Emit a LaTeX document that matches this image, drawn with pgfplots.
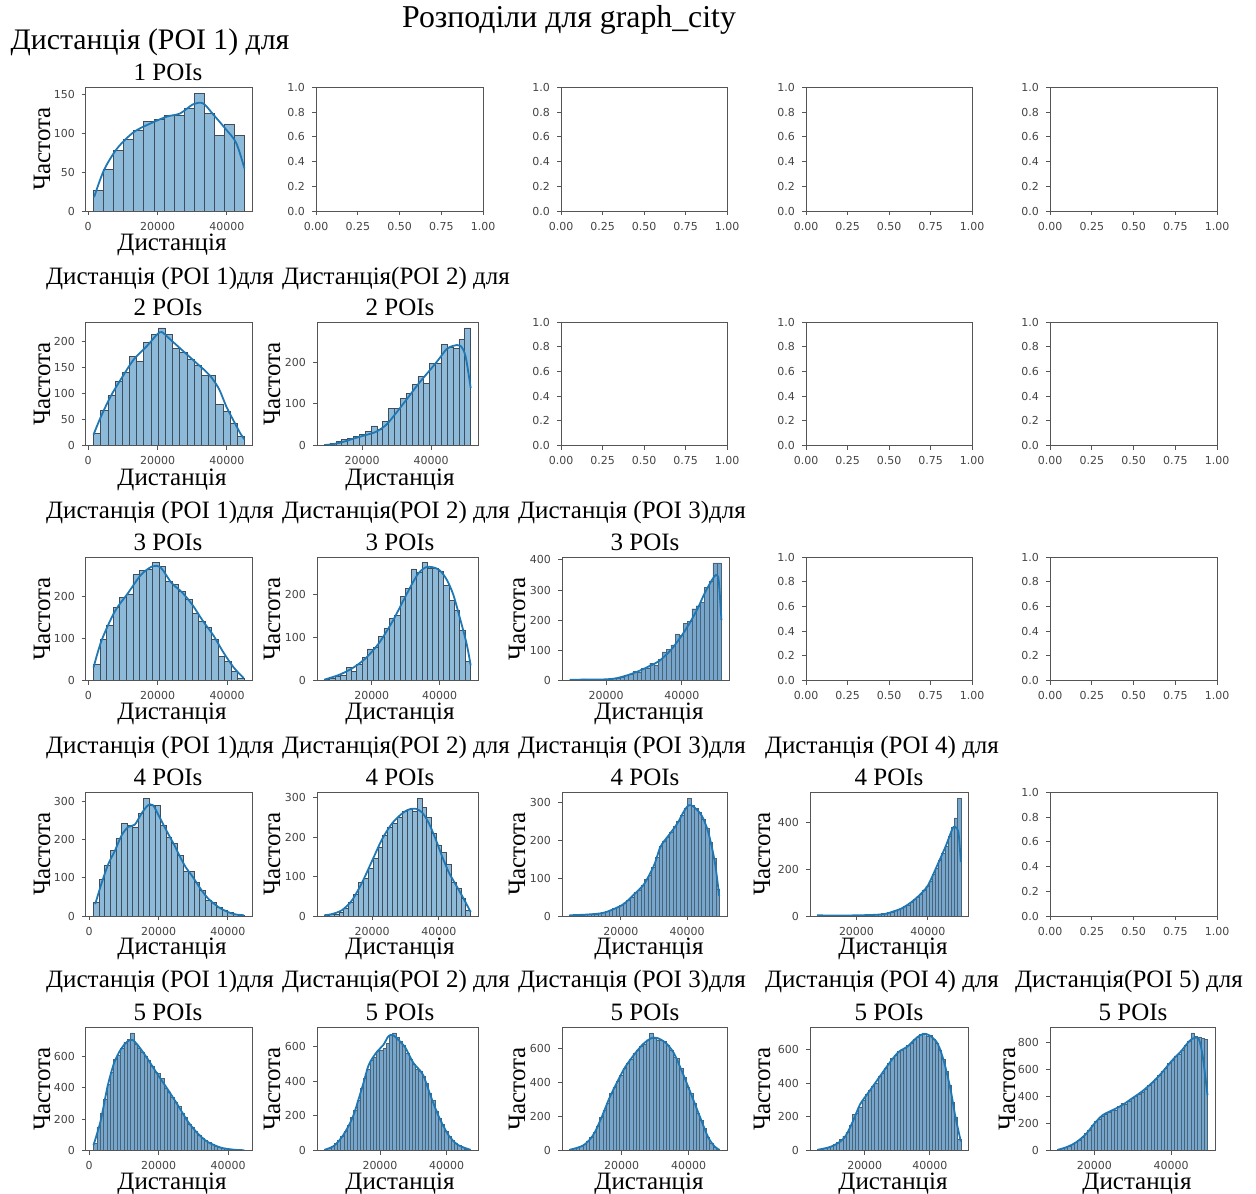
\documentclass[border=0pt]{standalone}
\usepackage{pgfplots}
\pgfplotsset{compat=1.18}
\usepackage{fontspec}
\setmainfont{Liberation Serif}
\newfontfamily\dejavu{DejaVu Sans}

\definecolor{barfill}{HTML}{8DBAD9}
\definecolor{baredge}{HTML}{3F4E5A}
\definecolor{densefill}{HTML}{78A5CC}
\definecolor{denseedge}{HTML}{466579}
\definecolor{kdeblue}{HTML}{1F77B4}
\definecolor{spine}{HTML}{555555}
\definecolor{ticktext}{HTML}{444444}

\newcommand\labf{\fontsize{12.5}{15}\selectfont}

\pgfplotsset{
  panel/.style={scale only axis, anchor=north west, height=61.75pt,
    axis line style={spine, line width=0.5pt},
    every tick/.style={spine, line width=0.5pt},
    major tick length=2pt, tick align=outside, tick pos=lower,
    ticklabel style={font=\dejavu\fontsize{5.5}{6.5}\selectfont, text=ticktext},
    /pgf/number format/assume math mode=true},
  hist/.style={panel, ymin=0, scaled ticks=false, xtick={0,20000,40000},
    /pgf/number format/1000 sep={}, axis on top},
  blank/.style={panel, xmin=0, xmax=1, ymin=0, ymax=1,
    xtick={0,0.25,0.5,0.75,1}, ytick={0,0.2,0.4,0.6,0.8,1},
    x tick label style={/pgf/number format/.cd, fixed, fixed zerofill, precision=2, /tikz/.cd},
    y tick label style={/pgf/number format/.cd, fixed, fixed zerofill, precision=1, /tikz/.cd}},
  histbar/.style={ybar interval, fill=barfill, draw=baredge, line width=0.4pt},
  thinbar/.style={ybar interval, fill=densefill, draw=denseedge, line width=0.2pt},
  kde/.style={kdeblue, line width=0.9pt, smooth},
}

\begin{document}
\begin{tikzpicture}
\useasboundingbox (0pt,0pt) rectangle (628pt,-596.5pt);

% ---------------- row 1 : 1 POI ----------------
\begin{axis}[hist, at={(43pt,-43.75pt)}, width=83pt,
  xmin=-625, xmax=47225, ymax=159.6, ytick={0,50,100,150}]
\addplot[histbar] table[x expr={1550+\coordindex*2900}, y index=0, header=false, row sep=\\]
{27\\54\\78\\93\\104\\116\\118\\124\\124\\133\\152\\126\\98\\112\\98\\0\\};
\addplot[kde] coordinates {(1714,18)(4571,53)(8380,81)(13143,102)(17905,113)(22667,122)(26476,126)(30286,138)(33143,139)(36000,125)(39810,105)(42667,88)(45050,55)};
\end{axis}
\begin{axis}[blank, at={(158pt,-43.75pt)}, width=83.5pt]\end{axis}
\begin{axis}[blank, at={(280.5pt,-43.75pt)}, width=83pt]\end{axis}
\begin{axis}[blank, at={(403pt,-43.75pt)}, width=83pt]\end{axis}
\begin{axis}[blank, at={(525pt,-43.75pt)}, width=83.5pt]\end{axis}

% ---------------- row 2 : 2 POIs ----------------
\begin{axis}[hist, at={(43pt,-161pt)}, width=83pt,
  xmin=-625, xmax=47225, ymax=238.4, ytick={0,50,100,150,200}]
\addplot[histbar] table[x expr={1550+\coordindex*2071.43}, y index=0, header=false, row sep=\\]
{24\\68\\96\\124\\141\\172\\163\\199\\214\\227\\214\\188\\180\\167\\154\\135\\135\\79\\66\\43\\17\\0\\};
\addplot[kde] coordinates {(1550,21)(3700,56)(6490,95)(9350,127)(13140,166)(16950,192)(19800,214)(21230,219)(23620,205)(27430,182)(31580,157)(33620,145)(35690,130)(37800,108)(39840,75)(41900,48)(43980,22)(45050,12)};
\end{axis}
\begin{axis}[hist, at={(158.5pt,-161pt)}, width=80.5pt,
  xmin=6875, xmax=53625, ymax=297.2, ytick={0,100,200}]
\addplot[histbar] table[x expr={9000+\coordindex*1700}, y index=0, header=false, row sep=\\]
{3\\6\\10\\14\\18\\22\\26\\34\\47\\38\\58\\90\\90\\114\\126\\146\\166\\150\\198\\198\\244\\237\\233\\255\\283\\0\\};
\addplot[kde] coordinates {(9000,1)(12000,4)(15000,10)(18000,18)(21000,25)(24000,33)(27000,50)(30000,80)(33000,112)(36000,145)(39000,175)(42000,205)(44500,232)(46500,240)(48500,240)(50000,215)(51500,138)};
\end{axis}
\begin{axis}[blank, at={(280.5pt,-161pt)}, width=83pt]\end{axis}
\begin{axis}[blank, at={(403pt,-161pt)}, width=83pt]\end{axis}
\begin{axis}[blank, at={(525pt,-161pt)}, width=83.5pt]\end{axis}

% ---------------- row 3 : 3 POIs ----------------
\begin{axis}[hist, at={(43pt,-278.5pt)}, width=83pt,
  xmin=-675, xmax=47175, ymax=294, ytick={0,100,200}]
\addplot[histbar] table[x expr={1500+\coordindex*1891.3}, y index=0, header=false, row sep=\\]
{39\\97\\131\\174\\198\\206\\252\\262\\264\\280\\272\\236\\228\\212\\194\\160\\140\\126\\99\\57\\45\\21\\6\\0\\};
\addplot[kde] coordinates {(1500,31)(3800,95)(7610,164)(11420,208)(15230,252)(18560,272)(20950,268)(24000,232)(27000,210)(30000,180)(33000,142)(36000,108)(39000,66)(42000,30)(44760,6)};
\end{axis}
\begin{axis}[hist, at={(158.5pt,-278.5pt)}, width=80.5pt,
  xmin=3840, xmax=51360, ymax=285.6, ytick={0,100,200}]
\addplot[histbar] table[x expr={6000+\coordindex*1600}, y index=0, header=false, row sep=\\]
{2\\5\\9\\12\\31\\22\\38\\53\\73\\77\\102\\120\\143\\151\\194\\213\\258\\250\\272\\260\\260\\252\\219\\186\\162\\117\\45\\0\\};
\addplot[kde] coordinates {(6000,2)(10000,12)(14000,27)(18000,50)(22000,85)(26000,135)(29000,180)(32000,225)(34000,250)(36000,262)(38000,262)(40000,255)(42000,235)(44000,200)(46000,145)(48000,85)(49200,35)};
\end{axis}
\begin{axis}[hist, at={(281pt,-278.5pt)}, width=83.5pt,
  xmin=8400, xmax=52400, ymax=409.5, ytick={0,100,200,300,400}]
\addplot[thinbar] table[x expr={10400+\coordindex*1111}, y index=0, header=false, row sep=\\]
{2\\2\\3\\5\\3\\2\\3\\2\\3\\4\\6\\8\\12\\16\\22\\30\\27\\40\\42\\58\\52\\70\\95\\104\\118\\155\\150\\190\\195\\238\\248\\258\\310\\330\\390\\390\\0\\};
\addplot[kde] coordinates {(10400,2)(14000,3)(18000,3)(22000,6)(25000,15)(28000,28)(31000,45)(34000,65)(37000,100)(40000,150)(42000,190)(44000,235)(46000,290)(48000,335)(49000,350)(49700,330)(50400,200)};
\end{axis}
\begin{axis}[blank, at={(403pt,-278.5pt)}, width=83pt]\end{axis}
\begin{axis}[blank, at={(525pt,-278.5pt)}, width=83.5pt]\end{axis}

% ---------------- row 4 : 4 POIs ----------------
\begin{axis}[hist, at={(43pt,-396.25pt)}, width=83pt,
  xmin=-936, xmax=46936, ymax=324.5, ytick={0,100,200,300}]
\addplot[histbar] table[x expr={1240+\coordindex*1611.85}, y index=0, header=false, row sep=\\]
{35\\97\\133\\172\\203\\243\\238\\234\\269\\309\\291\\291\\238\\207\\190\\159\\117\\117\\88\\66\\40\\35\\22\\16\\9\\4\\2\\0\\};
\addplot[kde] coordinates {(1714,31)(3620,88)(5520,137)(7430,172)(9330,212)(11240,234)(13140,240)(15050,269)(16950,291)(18380,291)(19800,268)(21388,240)(23000,212)(24612,185)(26224,155)(27836,128)(29448,108)(31060,86)(32672,64)(34284,46)(35896,33)(37507,22)(39119,14)(40731,8)(42343,4)(44570,2)};
\end{axis}
\begin{axis}[hist, at={(158.5pt,-396.25pt)}, width=80.5pt,
  xmin=3510, xmax=51690, ymax=313, ytick={0,100,200,300}]
\addplot[histbar] table[x expr={5700+\coordindex*1460}, y index=0, header=false, row sep=\\]
{2\\3\\5\\10\\20\\35\\55\\85\\95\\120\\145\\175\\205\\225\\235\\250\\265\\270\\265\\298\\275\\250\\210\\180\\160\\130\\85\\70\\45\\15\\0\\};
\addplot[kde] coordinates {(5700,2)(8000,5)(11000,15)(14000,40)(17000,85)(20000,140)(23000,195)(26000,235)(29000,260)(31000,270)(33000,272)(35000,262)(37000,235)(39000,195)(41000,150)(43000,110)(45000,80)(47000,50)(49500,10)};
\end{axis}
\begin{axis}[hist, at={(281pt,-396.25pt)}, width=82.5pt,
  xmin=2235, xmax=52065, ymax=325.5, ytick={0,100,200,300}]
\addplot[thinbar] table[x expr={4500+\coordindex*1078.57}, y index=0, header=false, row sep=\\]
{2\\2\\3\\3\\4\\4\\5\\6\\7\\9\\12\\15\\20\\22\\28\\35\\42\\50\\62\\68\\80\\97\\108\\128\\155\\183\\198\\208\\222\\236\\250\\265\\284\\310\\292\\283\\274\\255\\232\\195\\152\\72\\0\\};
\addplot[kde] coordinates {(4500,2)(10000,4)(15000,9)(20000,27)(22000,40)(24000,57)(27000,84)(30000,133)(32000,183)(34500,213)(37000,243)(39000,275)(40500,292)(42000,288)(44400,265)(46400,221)(48400,142)(49700,53)};
\end{axis}
\begin{axis}[hist, at={(405pt,-396.25pt)}, width=79pt,
  xmin=6990, xmax=51210, ymax=528, ytick={0,200,400}]
\addplot[thinbar] table[x expr={9000+\coordindex*893.33}, y index=0, header=false, row sep=\\]
{3\\2\\2\\2\\3\\2\\2\\2\\2\\3\\3\\2\\3\\4\\4\\5\\5\\6\\7\\8\\10\\12\\15\\18\\25\\28\\32\\40\\48\\58\\70\\82\\95\\110\\128\\150\\178\\205\\240\\270\\300\\340\\380\\420\\503\\0\\};
\addplot[kde] coordinates {(9000,3)(15000,2)(20000,3)(25000,5)(28000,9)(30000,18)(32400,31)(34000,45)(36000,67)(38000,95)(40000,131)(42200,203)(44900,296)(46000,340)(47100,380)(48000,376)(48600,350)(49200,231)};
\end{axis}
\begin{axis}[blank, at={(525pt,-396.25pt)}, width=83.5pt]\end{axis}

% ---------------- row 5 : 5 POIs ----------------
\begin{axis}[hist, at={(43pt,-513.5pt)}, width=83pt,
  xmin=-922.5, xmax=46872.5, ymax=787.5, ytick={0,200,400,600}]
\addplot[thinbar] table[x expr={1250+\coordindex*965.56}, y index=0, header=false, row sep=\\]
{45\\150\\235\\330\\420\\500\\580\\610\\650\\690\\710\\750\\680\\650\\630\\600\\575\\540\\500\\490\\460\\400\\375\\340\\310\\280\\240\\215\\170\\150\\125\\100\\80\\65\\50\\38\\30\\22\\16\\12\\9\\6\\4\\3\\2\\0\\};
\addplot[kde] coordinates {(1250,35)(3300,190)(5300,410)(7200,560)(9100,645)(11000,695)(12500,705)(14400,660)(16800,585)(19700,485)(22600,390)(25500,290)(28400,185)(31200,110)(34100,55)(38000,18)(41800,5)(44700,2)};
\end{axis}
\begin{axis}[hist, at={(158.5pt,-513.5pt)}, width=80.5pt,
  xmin=1105, xmax=49395, ymax=714, ytick={0,200,400,600}]
\addplot[thinbar] table[x expr={3300+\coordindex*975.56}, y index=0, header=false, row sep=\\]
{6\\15\\25\\40\\60\\85\\110\\145\\190\\235\\290\\360\\420\\470\\520\\540\\575\\580\\590\\620\\665\\680\\655\\630\\610\\560\\530\\500\\470\\460\\430\\390\\330\\290\\230\\185\\150\\110\\80\\60\\40\\28\\18\\10\\5\\0\\};
\addplot[kde] coordinates {(3300,4)(6190,27)(9050,91)(11900,197)(14760,372)(16670,497)(19050,570)(21000,610)(22500,660)(23800,668)(25500,640)(27620,594)(30000,507)(32860,439)(35240,313)(37620,197)(40480,91)(43330,33)(47200,4)};
\end{axis}
\begin{axis}[hist, at={(281pt,-513.5pt)}, width=82.5pt,
  xmin=2265, xmax=51435, ymax=724.5, ytick={0,200,400,600}]
\addplot[thinbar] table[x expr={4500+\coordindex*993.33}, y index=0, header=false, row sep=\\]
{5\\12\\18\\25\\35\\55\\80\\105\\145\\195\\235\\280\\335\\370\\405\\440\\480\\510\\535\\570\\590\\610\\625\\650\\690\\660\\650\\645\\640\\620\\590\\550\\540\\480\\430\\370\\335\\280\\220\\175\\130\\80\\45\\22\\8\\0\\};
\addplot[kde] coordinates {(4500,4)(8600,30)(11500,89)(13900,187)(16330,305)(18740,403)(21160,492)(24060,570)(26470,625)(28890,659)(30820,659)(33230,630)(35650,570)(38060,462)(40480,344)(43380,197)(45800,79)(47730,24)(49200,4)};
\end{axis}
\begin{axis}[hist, at={(405pt,-513.5pt)}, width=79pt,
  xmin=3195, xmax=51705, ymax=735, ytick={0,200,400,600}]
\addplot[thinbar] table[x expr={5400+\coordindex*980}, y index=0, header=false, row sep=\\]
{5\\10\\15\\20\\25\\35\\50\\65\\85\\110\\150\\215\\225\\260\\300\\335\\360\\385\\400\\440\\460\\490\\520\\550\\565\\590\\600\\610\\625\\640\\660\\675\\690\\700\\680\\685\\660\\640\\600\\545\\470\\390\\290\\200\\65\\0\\};
\addplot[kde] coordinates {(5400,4)(9760,24)(13660,74)(16590,184)(18540,274)(21460,354)(24390,434)(27320,514)(30240,584)(33170,620)(36100,674)(38050,694)(40000,684)(42440,634)(44390,524)(46340,364)(47800,204)(49500,54)};
\end{axis}
\begin{axis}[hist, at={(525pt,-513.5pt)}, width=82.5pt,
  xmin=8445, xmax=51455, ymax=913.5, ytick={0,200,400,600,800}]
\addplot[thinbar] table[x expr={10400+\coordindex*868.89}, y index=0, header=false, row sep=\\]
{10\\15\\22\\32\\45\\60\\75\\95\\125\\150\\185\\215\\230\\255\\270\\280\\300\\300\\325\\350\\345\\365\\385\\400\\420\\435\\455\\480\\505\\530\\555\\585\\610\\645\\670\\700\\715\\745\\780\\805\\870\\845\\840\\830\\820\\0\\};
\addplot[kde] coordinates {(10400,5)(12770,25)(15320,62)(17870,124)(20000,199)(22130,261)(24680,298)(27230,335)(29790,385)(32340,435)(34890,497)(37450,571)(40000,658)(42550,733)(44680,807)(45960,832)(47230,825)(48250,696)(49500,410)};
\end{axis}

% ---------------- titles and labels ----------------
\node[font=\fontsize{15.9}{19}\selectfont] at (284.5pt,-10pt) {Розподіли для graph\_city};
\node[font=\fontsize{14.9}{18}\selectfont] at (75pt,-21pt) {Дистанція (POI 1) для};
\node[font=\labf] at (84pt,-36pt) {1 POIs};

\foreach \r/\ya/\yb in {2/-139/-153.5, 3/-256/-271, 4/-373.5/-388.5, 5/-490.5/-506} {
  \node[font=\labf] at (80pt,\ya pt) {Дистанція (POI 1)для};
  \node[font=\labf] at (84pt,\yb pt) {\r\ POIs};
  \node[font=\labf] at (198pt,\ya pt) {Дистанція(POI 2) для};
  \node[font=\labf] at (200pt,\yb pt) {\r\ POIs};
}
\foreach \r/\ya/\yb in {3/-256/-271, 4/-373.5/-388.5, 5/-490.5/-506} {
  \node[font=\labf] at (316pt,\ya pt) {Дистанція (POI 3)для};
  \node[font=\labf] at (322.5pt,\yb pt) {\r\ POIs};
}
\foreach \r/\ya/\yb in {4/-373.5/-388.5, 5/-490.5/-506} {
  \node[font=\labf] at (441pt,\ya pt) {Дистанція (POI 4) для};
  \node[font=\labf] at (444.5pt,\yb pt) {\r\ POIs};
}
\node[font=\labf] at (564.5pt,-490.5pt) {Дистанція(POI 5) для};
\node[font=\labf] at (566.5pt,-506pt) {5 POIs};

% axis labels of the filled panels
\foreach \x/\lx/\y/\ly in {21/86/-74.5/-122.5,
  21/86/-192/-240, 136/200/-192/-240,
  21/86/-309.5/-357, 136/200/-309.5/-357, 258.5/324.5/-309.5/-357,
  21/86/-427/-474.5, 136/200/-427/-474.5, 258.5/324.5/-427/-474.5, 381/446.5/-427/-474.5,
  21/86/-544.5/-592, 136/200/-544.5/-592, 258.5/324.5/-544.5/-592, 381/446.5/-544.5/-592, 503.5/568.5/-544.5/-592} {
  \node[font=\labf, rotate=90] at (\x pt,\y pt) {Частота};
  \node[font=\labf] at (\lx pt,\ly pt) {Дистанція};
}
\end{tikzpicture}
\end{document}
